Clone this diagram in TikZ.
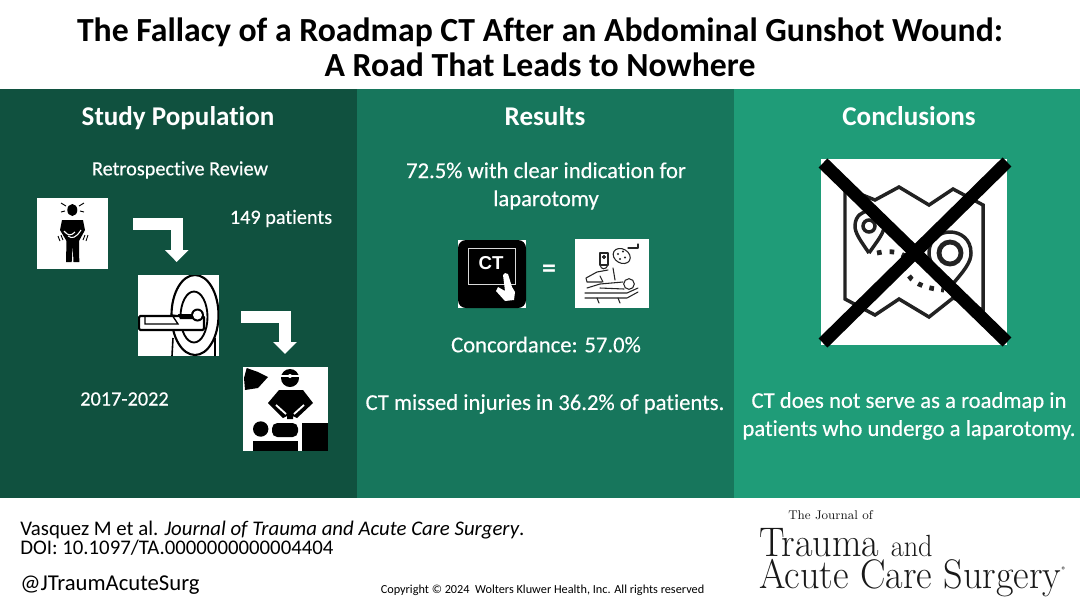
\documentclass[tikz,border=0pt]{standalone}
\usepackage{fontspec}
\setmainfont{Carlito}[Ligatures=NoCommon]
\newfontfamily\bodyfont{Carlito}[Ligatures=NoCommon,FakeBold=0.3]
\newfontfamily\arialfont{Liberation Sans}
\newfontfamily\logofont{Latin Modern Roman}
\usetikzlibrary{arrows.meta}
\definecolor{darkgreen}{HTML}{10513F}
\definecolor{midgreen}{HTML}{17765C}
\definecolor{lightgreen}{HTML}{1F9C78}
\definecolor{mapink}{HTML}{222222}
\tikzset{
	x=0.75pt, y=-0.75pt,
	titletext/.style={font=\fontsize{25.3}{26}\selectfont\bfseries, align=center, inner sep=0},
	headtext/.style={font=\fontsize{20.3}{23}\selectfont\bfseries, text=white, inner sep=0},
	bodytext/.style={font=\fontsize{17}{21}\selectfont\bodyfont, text=white, align=center, inner sep=0},
	sidetext/.style={font=\fontsize{15.2}{20}\selectfont\bodyfont, text=white, align=center, inner sep=0},
	foottext/.style={font=\fontsize{15.6}{12.5}\selectfont, anchor=west, align=left, inner sep=0},
	logotext/.style={anchor=west, inner sep=0, text=black!90, xscale=0.923},
	bentarrow/.style={draw=white, line width=8.8pt, -{Triangle[width=17.25pt,length=9pt]}},
	crossbar/.style={line width=9.5pt, black},
	thinline/.style={draw=black!85, line width=0.8pt, line join=round, line cap=round},
	mapline/.style={draw=mapink, line width=2.6pt, line join=miter}
}

\begin{document}
\begin{tikzpicture}
\useasboundingbox (0,0) rectangle (1080,608);
\fill[white] (0,0) rectangle (1080,608);
\fill[darkgreen] (0,89) rectangle (357,498);
\fill[midgreen] (357,89) rectangle (734,498);
\fill[lightgreen] (734,89) rectangle (1080,498);

\node[titletext] (title) at (540,47.5) {The Fallacy of a Roadmap CT After an Abdominal Gunshot Wound:\\A Road That Leads to Nowhere};

\node[headtext] (study) at (178,118) {Study Population};
\node[headtext] (results) at (545,116) {Results};
\node[headtext] (concl) at (909,116) {Conclusions};

% study population
\node[sidetext] (retro) at (180,170) {Retrospective Review};
\node[sidetext] (count) at (281,218.5) {149 patients};
\node[sidetext] (years) at (124.5,399) {2017-2022};

\fill[white] (37,198) rectangle (108,269);
\fill[black] (72.3,210) ellipse (5 and 6);
\fill[black] (62,220) -- (83,220) -- (85,230) -- (79,241) -- (79.3,262) -- (73.5,262) -- (72.7,245) -- (71.7,262) -- (66,262) -- (66.5,241) -- (60,230) -- cycle;
\draw[white, line width=0.8pt] (64,231) .. controls (68,236) and (71,236) .. (75,232);
\draw[white, line width=0.8pt] (68,236) .. controls (72,239) and (76,238) .. (81,230);
\draw[black, line width=0.7pt] (61,203) -- (66,206) (61,212) -- (65,211) (84,203) -- (79,206) (84,212) -- (80,211);
\draw[black, line width=0.7pt] (58,236) -- (60,241) (61,235) -- (63,240) (88,235) -- (86,241) (85,235) -- (83,240);

\coordinate (a1) at (133,224);
\coordinate (b1) at (176.7,262);
\draw[bentarrow] (a1) -| (b1);

\fill[white] (138,275) rectangle (219,356);
\begin{scope}
\clip (138,275) rectangle (219,356);
\draw[black, line width=1.6pt] (195,315) ellipse (23.5 and 40);
\draw[black, line width=1.4pt] (194,317) ellipse (13.5 and 25.5);
\draw[black, line width=1.2pt] (173,338) -- (172,356) (215,338) -- (215,356);
\fill[white] (139,315) rectangle (203,330);
\draw[black, line width=1.6pt, rounded corners=1pt] (139,316) rectangle (204,330);
\draw[black, line width=1pt] (145,316) -- (145,324) -- (178,324) -- (172,315) -- (197,319);
\fill[black] (178,314) -- (192,314) -- (192,319) -- (180,319) -- cycle;
\fill[black] (197.5,315) circle (6.5);
\fill[white] (197.5,315) circle (4.5);
\end{scope}

\coordinate (a2) at (241,317);
\coordinate (b2) at (285,354);
\draw[bentarrow] (a2) -| (b2);

\fill[white] (243,367) rectangle (328,451);
\fill[black] (246.7,368) -- (258,372) -- (268,377) -- (258,388) -- (245,390) -- (244,378) -- cycle;
\fill[black] (290,378) circle (9);
\draw[white, line width=1pt] (281,376) -- (299,376);
\fill[white] (290,376) circle (2);
\fill[black] (279,390) -- (303,390) -- (313,403) -- (297,418) -- (293,416) -- (293,419) -- (287,419) -- (287,416) -- (283,418) -- (268,403) -- cycle;
\draw[white, line width=1.4pt] (276,405) -- (286,414) (304,405) -- (294,414);
\fill[black] (260.7,429) circle (7.7);
\fill[black, rounded corners=4pt] (272,423) rectangle (298,437);
\fill[black] (253,441) rectangle (298,451);
\fill[black] (302,423) rectangle (328,451);

% results
\node[bodytext, align=center] (clear) at (546,186) {72.5\% with clear indication for\\[0pt]laparotomy};
\fill[white] (458,240) rectangle (526,308);
\fill[black, rounded corners=6pt] (458,240) rectangle (526,308);
\draw[black!15!white, line width=1.1pt] (468.5,248.5) rectangle (515.5,284.5);
\node[font=\fontsize{14}{14}\selectfont\bfseries\arialfont, text=white, inner sep=0] (cttext) at (491,263) {CT};
\fill[white] (505,273) -- (508,274) -- (512,287) -- (515,292) -- (514,300) -- (505,301) -- (496,291) -- (498,287) -- (505,291) -- (503,275) -- cycle;
\node[font=\fontsize{21}{21}\selectfont\bfseries, text=white, inner sep=0] (equal) at (549,271) {=};

\fill[white] (575,239) rectangle (649,308);
\draw[thinline, rotate around={-30:(621.7,256)}] (621.7,256) ellipse (9 and 7);
\fill[black!85] (618,254) circle (1.2) (623,251.5) circle (1.2) (625,257.5) circle (1.2) (620,259) circle (1.2);
\draw[thinline] (628,248) -- (638,248) -- (638,244);
\draw[thinline] (600,253) rectangle (608,265);
\draw[thinline] (602.5,257) -- (605.5,257) (604,255.5) -- (604,258.5);
\draw[thinline] (600,265) .. controls (601,270) and (606,270) .. (608,265);
\draw[thinline] (608,270) -- (597,272) -- (586,278) -- (587,282) -- (602,282);
\draw[thinline] (600,276) -- (603,282);
\draw[thinline] (613,268) -- (615,280);
\draw[thinline] (629,284) circle (5.3);
\draw[thinline] (587,288) -- (600,284) -- (623,282);
\draw[thinline] (600,288) -- (624,289);
\draw[thinline] (585,293) -- (627,293) -- (638,288);
\draw[thinline] (585,298) -- (627,298) -- (638,292);
\draw[thinline] (597,298) -- (599,303) (618,298) -- (620,303);
\node[bodytext] (concord) at (546,344.5) {Concordance: 57.0\%};
\node[bodytext] (missed) at (545,404) {CT missed injuries in 36.2\% of patients.};

% conclusions
\fill[white] (821,159) rectangle (1007,345);
\draw[mapline] (845,188) -- (875,200) -- (899,187) -- (929,205) -- (953,189) -- (983,205) -- (983,310) -- (953,298) -- (929,317) -- (899,299) -- (875,315) -- (845,299) -- cycle;
\draw[mapline] (869,253) .. controls (860,240) and (855,233) .. (855,226) .. controls (855,206) and (884,206) .. (884,226) .. controls (884,233) and (878,240) .. (869,253);
\draw[mapline] (869,226) circle (6);
\draw[mapline] (950,287) .. controls (935,270) and (929,262) .. (929,253) .. controls (929,225) and (971,225) .. (971,253) .. controls (971,262) and (965,270) .. (950,287);
\draw[draw=mapink, line width=3.6pt] (950,253) circle (11);
\draw[draw=mapink, line width=3.6pt, dash pattern=on 3.5pt off 6pt] (877,253) .. controls (890,250) and (900,252) .. (908,258);
\draw[draw=mapink, line width=3.6pt, dash pattern=on 3.5pt off 5.5pt] (909,276) .. controls (915,285) and (930,289) .. (944,290);
\coordinate (x1) at (823,163);
\coordinate (x2) at (1007,342);
\coordinate (x3) at (1007,162);
\coordinate (x4) at (823,343);
\draw[crossbar] (x1) -- (x2);
\draw[crossbar] (x3) -- (x4);
\node[bodytext, align=center] (serve) at (909,416) {CT does not serve as a roadmap in\\patients who undergo a laparotomy.};

% footer
\node[foottext] (cite) at (20,538.5) {Vasquez M et al. \textit{Journal of Trauma and Acute Care Surgery}.\\DOI: 10.1097/TA.0000000000004404};
\node[foottext, font=\fontsize{17}{17}\selectfont] (handle) at (20,585) {@JTraumAcuteSurg};
\node[font=\fontsize{9.2}{9.2}\selectfont, inner sep=0] (copy) at (542.5,590) {Copyright © 2024\ \ Wolters Kluwer Health, Inc. All rights reserved};
\node[anchor=west, inner sep=0, text=black!90, font=\fontsize{9.5}{9.5}\selectfont\logofont] (logoa) at (788,515) {The Journal of};
\node[logotext, font=\fontsize{31}{31}\selectfont\logofont] (logob) at (759,543) {Trauma \fontsize{23}{23}\selectfont and};
\node[logotext, font=\fontsize{31}{31}\selectfont\logofont] (logoc) at (759,578) {Acute Care Surgery};
\node[font=\fontsize{7}{7}\selectfont, inner sep=0] (logor) at (1064,570) {®};
\end{tikzpicture}
\end{document}
